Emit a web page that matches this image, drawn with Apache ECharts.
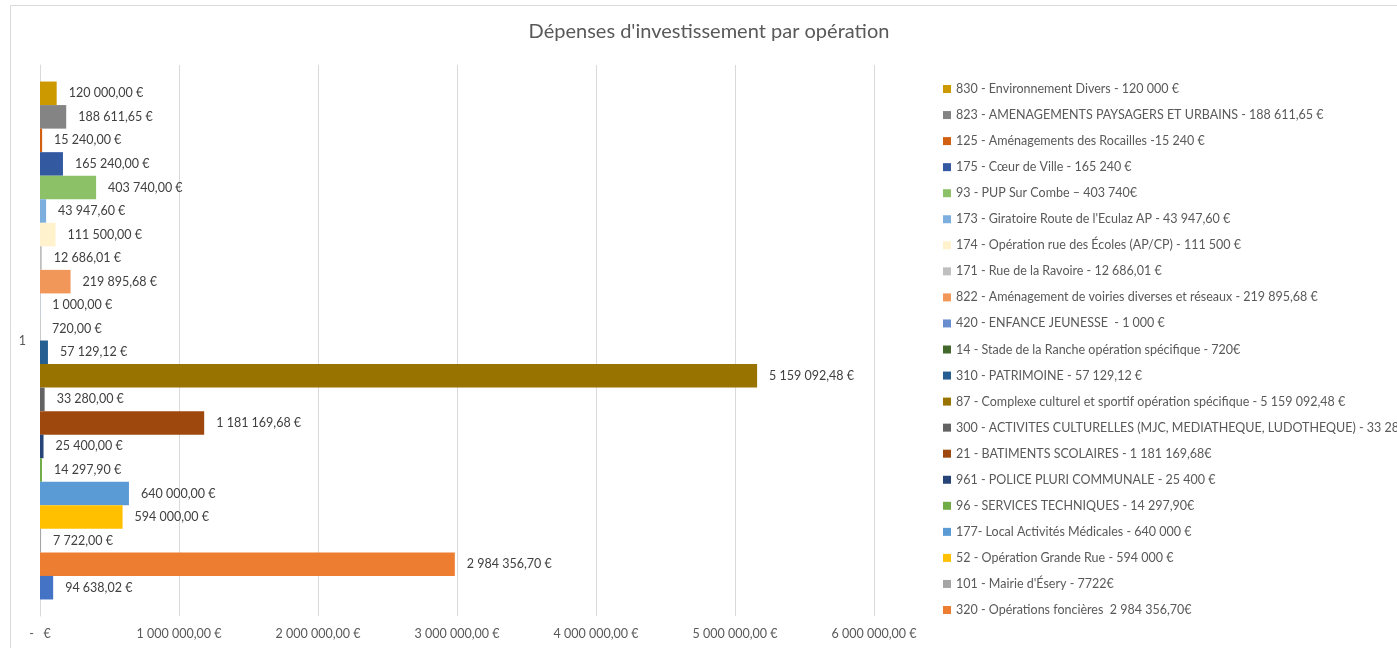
<!DOCTYPE html>
<html lang="fr">
<head>
<meta charset="utf-8">
<title>Dépenses d'investissement par opération</title>
<script src="https://cdn.jsdelivr.net/npm/echarts@6/dist/echarts.min.js"></script>
<style>
  html, body { margin: 0; padding: 0; background: #ffffff; }
  #chart { width: 1397px; height: 648px; }
</style>
</head>
<body>
<div id="chart"></div>
<script>
// Operations, listed from the top bar to the bottom bar
const operations = [
  "830 - Environnement Divers - 120 000 €",
  "823 - AMENAGEMENTS PAYSAGERS ET URBAINS - 188 611,65 €",
  "125 - Aménagements des Rocailles -15 240 €",
  "175 - Cœur de Ville - 165 240 €",
  "93 - PUP Sur Combe – 403 740€",
  "173 - Giratoire Route de l'Eculaz AP - 43 947,60 €",
  "174 - Opération rue des Écoles (AP/CP) - 111 500 €",
  "171 - Rue de la Ravoire - 12 686,01 €",
  "822 - Aménagement de voiries diverses et réseaux - 219 895,68 €",
  "420 - ENFANCE JEUNESSE  - 1 000 €",
  "14 - Stade de la Ranche opération spécifique - 720€",
  "310 - PATRIMOINE - 57 129,12 €",
  "87 - Complexe culturel et sportif opération spécifique - 5 159 092,48 €",
  "300 - ACTIVITES CULTURELLES (MJC, MEDIATHEQUE, LUDOTHEQUE) - 33 280 €",
  "21 - BATIMENTS SCOLAIRES - 1 181 169,68€",
  "961 - POLICE PLURI COMMUNALE - 25 400 €",
  "96 - SERVICES TECHNIQUES - 14 297,90€",
  "177- Local Activités Médicales - 640 000 €",
  "52 - Opération Grande Rue - 594 000 €",
  "101 - Mairie d'Ésery - 7722€",
  "320 - Opérations foncières  2 984 356,70€",
  "Divers"
];

// Amount spent per operation (€)
const amounts = [
  120000.00, 188611.65, 15240.00, 165240.00, 403740.00, 43947.60,
  111500.00, 12686.01, 219895.68, 1000.00, 720.00, 57129.12,
  5159092.48, 33280.00, 1181169.68, 25400.00, 14297.90, 640000.00,
  594000.00, 7722.00, 2984356.70, 94638.02
];

const barColors = [
  "#CC9A00", "#848484", "#D26012", "#335AA1", "#8CC168", "#7CAFDD",
  "#FFF2CC", "#BFBFBF", "#F1975A", "#698ED0", "#43682B", "#255E91",
  "#997300", "#636363", "#9E480E", "#264478", "#70AD47", "#5B9BD5",
  "#FFC000", "#A5A5A5", "#ED7D31", "#4472C4"
];

// Entries shown in the legend (the last operation has none)
const legendEntries = operations.slice(0, 21);

const categories = ["1"];

const axisMax = 6000000;
const axisStep = 1000000;

const FONT = "Lato, 'Noto Sans', sans-serif";

function euro(v) {
  if (v === 0) return "-   €";
  const parts = v.toFixed(2).split(".");
  const intPart = parts[0].replace(/\B(?=(\d{3})+(?!\d))/g, " ");
  return intPart + "," + parts[1] + " €";
}

const series = operations.map((name, i) => ({
  name: name,
  type: "bar",
  data: [amounts[i]],
  itemStyle: { color: barColors[i] },
  barGap: "0%",
  barCategoryGap: "6%",
  label: {
    show: true,
    position: "right",
    distance: 12,
    color: "#404040",
    fontFamily: FONT,
    fontSize: 12.5,
    formatter: p => euro(p.value)
  }
}));

const chart = echarts.init(document.getElementById("chart"), null, { renderer: "canvas" });

chart.setOption({
  animation: false,
  backgroundColor: "#ffffff",
  title: {
    text: "Dépenses d'investissement par opération",
    left: 709,
    textAlign: "center",
    top: 22,
    padding: 0,
    textStyle: { color: "#595959", fontFamily: FONT, fontSize: 20, fontWeight: "normal" }
  },
  graphic: [{
    type: "rect",
    shape: { x: 10.5, y: 5.5, width: 1400, height: 660 },
    style: { fill: "none", stroke: "#D9D9D9", lineWidth: 1 },
    silent: true,
    z: -10
  }],
  legend: {
    orient: "vertical",
    left: 943,
    top: 82,
    padding: 0,
    data: legendEntries,
    icon: "rect",
    itemWidth: 8,
    itemHeight: 8,
    itemGap: 12.05,
    textStyle: { color: "#595959", fontFamily: FONT, fontSize: 12.5, lineHeight: 14 }
  },
  grid: { left: 40, right: 523, top: 65, bottom: 32, containLabel: false },
  xAxis: {
    type: "value",
    min: 0,
    max: axisMax,
    interval: axisStep,
    axisLine: { show: false },
    axisTick: { show: false },
    splitLine: { show: true, lineStyle: { color: "#D9D9D9", width: 1 } },
    axisLabel: {
      color: "#595959",
      fontFamily: FONT,
      fontSize: 12.5,
      margin: 11,
      formatter: v => euro(v)
    }
  },
  yAxis: {
    type: "category",
    data: categories,
    axisLine: { show: true, lineStyle: { color: "#D9D9D9" } },
    axisTick: { show: false },
    axisLabel: { color: "#595959", fontFamily: FONT, fontSize: 12.5, margin: 14 }
  },
  series: series
});
</script>
</body>
</html>
